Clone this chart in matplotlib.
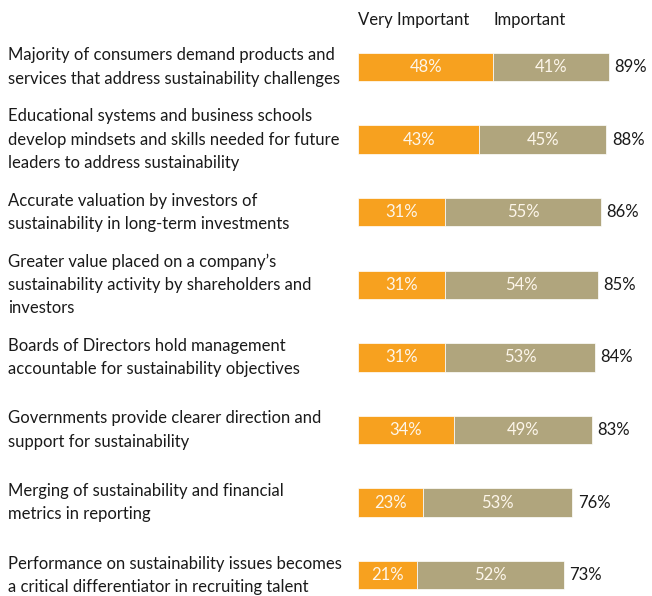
import matplotlib.pyplot as plt

plt.rcParams["font.family"] = ["Lato", "DejaVu Sans"]

labels = [
    "Majority of consumers demand products and\nservices that address sustainability challenges",
    "Educational systems and business schools\ndevelop mindsets and skills needed for future\nleaders to address sustainability",
    "Accurate valuation by investors of\nsustainability in long-term investments",
    "Greater value placed on a company\u2019s\nsustainability activity by shareholders and\ninvestors",
    "Boards of Directors hold management\naccountable for sustainability objectives",
    "Governments provide clearer direction and\nsupport for sustainability",
    "Merging of sustainability and financial\nmetrics in reporting",
    "Performance on sustainability issues becomes\na critical differentiator in recruiting talent",
]
very_important = [48, 43, 31, 31, 31, 34, 23, 21]
important = [41, 45, 55, 54, 53, 49, 53, 52]
totals = [89, 88, 86, 85, 84, 83, 76, 73]

orange = "#F7A11F"
tan = "#B0A57D"

W, H = 652, 596
fig = plt.figure(figsize=(W / 100, H / 100), dpi=100)
# bars start at x=358px, 2.82 px per percentage point
ax = fig.add_axes([358 / W, 0, 282 / W, 1])
ax.set_xlim(0, 100)
row_px, first_px = 72.6, 67
ax.set_ylim((H - first_px) / row_px, -first_px / row_px)
ax.axis("off")

ys = range(len(labels))
ax.barh(ys, very_important, height=0.39, color=orange, edgecolor="white", linewidth=0.5)
ax.barh(ys, important, left=very_important, height=0.39, color=tan,
        edgecolor="white", linewidth=0.5)

for y, v, i, t, lab in zip(ys, very_important, important, totals, labels):
    ax.text(v / 2, y, f"{v}%", ha="center", va="center", color="#fdf6ea", fontsize=12)
    ax.text(v + i / 2, y, f"{i}%", ha="center", va="center", color="#fdf6ea", fontsize=12)
    ax.text(t + 2, y, f"{t}%", ha="left", va="center", color="#1a1a1a", fontsize=12)
    fig.text(8 / W, 1 - (first_px + row_px * y) / H, lab, ha="left", va="center",
             fontsize=12, color="#1a1a1a", linespacing=1.55)

ax.text(0, -0.65, "Very Important", ha="left", va="center", fontsize=12, color="#1a1a1a")
ax.text(very_important[0], -0.65, "Important", ha="left", va="center", fontsize=12,
        color="#1a1a1a")

fig.savefig("out.png", dpi=100)
